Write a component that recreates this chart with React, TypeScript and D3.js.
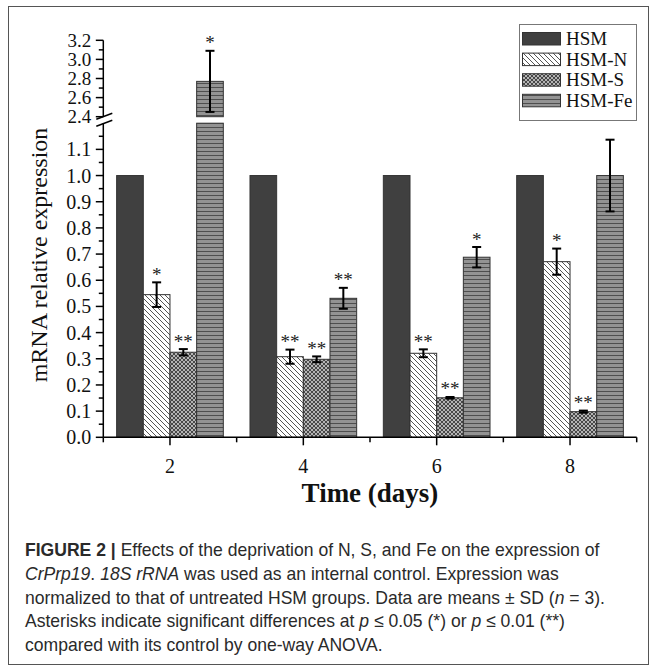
import React from "react";
import * as d3 from "d3";

const days = [2, 4, 6, 8];
const seriesNames = ["HSM", "HSM-N", "HSM-S", "HSM-Fe"];
const hsmValues = [1.0, 1.0, 1.0, 1.0];
const hsmSD = [0, 0, 0, 0];
const nValues = [0.545, 0.308, 0.321, 0.671];
const nSD = [0.047, 0.027, 0.015, 0.05];
const sValues = [0.325, 0.298, 0.151, 0.098];
const sSD = [0.012, 0.011, 0.003, 0.004];
const feValues = [2.77, 0.531, 0.688, 1.0];
const feSD = [0.32, 0.04, 0.039, 0.137];
const hsmSig = ["", "", "", ""];
const nSig = ["*", "**", "**", "*"];
const sSig = ["**", "**", "**", "**"];
const feSig = ["*", "**", "*", ""];

const lowMajorTicks = [0, 0.1, 0.2, 0.3, 0.4, 0.5, 0.6, 0.7, 0.8, 0.9, 1.0, 1.1];
const lowMinorTicks = [0.05, 0.15, 0.25, 0.35, 0.45, 0.55, 0.65, 0.75, 0.85, 0.95, 1.05, 1.15];
const highMajorTicks = [2.4, 2.6, 2.8, 3.0, 3.2];
const highMinorTicks = [2.5, 2.7, 2.9, 3.1];
const xMajorTicks = [2, 4, 6, 8];
const xMinorTicks = [1, 3, 5, 7, 9];

const captionLines = [
  [{ t: "FIGURE 2", w: "bold" }, { t: " | ", w: "bold" }, { t: "Effects of the deprivation of N, S, and Fe on the expression of" }],
  [{ t: "CrPrp19", i: true }, { t: ". " }, { t: "18S rRNA", i: true }, { t: " was used as an internal control. Expression was" }],
  [{ t: "normalized to that of untreated HSM groups. Data are means \u00B1 SD (" }, { t: "n", i: true }, { t: " = 3)." }],
  [{ t: "Asterisks indicate significant differences at " }, { t: "p", i: true }, { t: " \u2264 0.05 (*) or " }, { t: "p", i: true }, { t: " \u2264 0.01 (**)" }],
  [{ t: "compared with its control by one-way ANOVA." }],
];

const serif = "'Liberation Serif', 'Times New Roman', serif";
const sans = "'Liberation Sans', Arial, sans-serif";

export default function App() {
  const x = d3.scaleLinear().domain([1, 9]).range([103.3, 636.7]);
  const yLow = d3.scaleLinear().domain([0, 1.2]).range([437.3, 123.2]);
  const yHigh = d3.scaleLinear().domain([2.4, 3.2]).range([116.7, 40.3]);
  const y = (v: number) => (v <= 1.2 ? yLow(v) : yHigh(v));
  const fmt = d3.format(".1f");
  const barW = x(1.4) - x(1);
  const x0 = x(1);

  const series = [
    { vals: hsmValues, sd: hsmSD, sig: hsmSig, fill: "#404040" },
    { vals: nValues, sd: nSD, sig: nSig, fill: "url(#patN)" },
    { vals: sValues, sd: sSD, sig: sSig, fill: "url(#patS)" },
    { vals: feValues, sd: feSD, sig: feSig, fill: "url(#patFe)" },
  ];

  const bars: React.ReactNode[] = [];
  const errs: React.ReactNode[] = [];
  series.forEach((s, si) => {
    days.forEach((d, di) => {
      const v = s.vals[di];
      const left = x(d) + (si - 2) * barW;
      const cx = left + barW / 2;
      if (v > 1.2) {
        bars.push(
          <rect key={`b${si}-${di}-l`} x={left} y={yLow(1.2)} width={barW} height={yLow(0) - yLow(1.2)} fill={s.fill} stroke="#333" strokeWidth={1} />
        );
        bars.push(
          <rect key={`b${si}-${di}-h`} x={left} y={yHigh(v)} width={barW} height={yHigh(2.4) - yHigh(v)} fill={s.fill} stroke="#333" strokeWidth={1} />
        );
      } else {
        bars.push(
          <rect key={`b${si}-${di}`} x={left} y={y(v)} width={barW} height={yLow(0) - y(v)} fill={s.fill} stroke="#333" strokeWidth={1} />
        );
      }
      const sd = s.sd[di];
      if (sd > 0) {
        const top = y(v + sd);
        const bot = y(v - sd);
        errs.push(
          <g key={`e${si}-${di}`} stroke="#000" strokeWidth={2}>
            <line x1={cx} x2={cx} y1={top} y2={bot} />
            <line x1={cx - 4.5} x2={cx + 4.5} y1={top} y2={top} />
            <line x1={cx - 4.5} x2={cx + 4.5} y1={bot} y2={bot} />
          </g>
        );
      }
      if (s.sig[di]) {
        const top = y(v + sd);
        errs.push(
          <text key={`s${si}-${di}`} x={cx} y={top - 1.5} textAnchor="middle" fontFamily={serif} fontSize={19} fill="#222">
            {s.sig[di]}
          </text>
        );
      }
    });
  });

  return (
    <svg width={657} height={672} style={{ position: "absolute", left: 0, top: 0, background: "#fff" }}>
      <defs>
        <pattern id="patN" patternUnits="userSpaceOnUse" width={5} height={5}>
          <rect width={5} height={5} fill="#fff" />
          <path d="M0,0 L5,5 M-1,4 L1,6 M4,-1 L6,1" stroke="#555" strokeWidth={1} />
        </pattern>
        <pattern id="patS" patternUnits="userSpaceOnUse" width={4} height={4}>
          <rect width={4} height={4} fill="#b4b4b4" />
          <path d="M0,0 L4,4 M0,4 L4,0" stroke="#3c3c3c" strokeWidth={0.9} />
        </pattern>
        <pattern id="patFe" patternUnits="userSpaceOnUse" width={4} height={4}>
          <rect width={4} height={4} fill="#939393" />
          <rect y={3} width={4} height={1.1} fill="#4e4e4e" />
        </pattern>
      </defs>

      <rect x={8.5} y={6.5} width={640} height={658} fill="none" stroke="#555" strokeWidth={1} />

      {bars}
      {errs}

      <g stroke="#000" strokeWidth={1.5}>
        <line x1={x0} x2={x0} y1={yLow(0)} y2={yLow(1.2)} />
        <line x1={x0} x2={x0} y1={yHigh(2.4)} y2={yHigh(3.2)} />
        {lowMajorTicks.map((t) => (
          <line key={`lm${t}`} x1={x0 - 7.5} x2={x0} y1={yLow(t)} y2={yLow(t)} />
        ))}
        {lowMinorTicks.map((t) => (
          <line key={`ln${t}`} x1={x0 - 4.5} x2={x0} y1={yLow(t)} y2={yLow(t)} />
        ))}
        {highMajorTicks.map((t) => (
          <line key={`hm${t}`} x1={x0 - 7.5} x2={x0} y1={yHigh(t)} y2={yHigh(t)} />
        ))}
        {highMinorTicks.map((t) => (
          <line key={`hn${t}`} x1={x0 - 4.5} x2={x0} y1={yHigh(t)} y2={yHigh(t)} />
        ))}
        <line x1={x0 - 7} x2={x0 + 9} y1={yHigh(2.4) + 2.5} y2={yHigh(2.4) - 3.5} />
        <line x1={x0 - 7} x2={x0 + 9} y1={yLow(1.2) + 3} y2={yLow(1.2) - 3} />
      </g>
      <g fontFamily={serif} fontSize={20} fill="#111" textAnchor="end">
        {lowMajorTicks.map((t) => (
          <text key={`ll${t}`} x={x0 - 12} y={yLow(t)} dy="0.35em">{fmt(t)}</text>
        ))}
      </g>
      <g fontFamily={serif} fontSize={19} fill="#111" textAnchor="end">
        {highMajorTicks.map((t) => (
          <text key={`hl${t}`} x={x0 - 12} y={yHigh(t)} dy="0.33em">{fmt(t)}</text>
        ))}
      </g>

      <g stroke="#000" strokeWidth={1.5}>
        <line x1={x(1)} x2={x(9)} y1={yLow(0)} y2={yLow(0)} />
        {xMajorTicks.map((t) => (
          <line key={`xm${t}`} x1={x(t)} x2={x(t)} y1={yLow(0)} y2={yLow(0) + 8} />
        ))}
        {xMinorTicks.map((t) => (
          <line key={`xn${t}`} x1={x(t)} x2={x(t)} y1={yLow(0)} y2={yLow(0) + 5} />
        ))}
      </g>
      <g fontFamily={serif} fontSize={20} fill="#111" textAnchor="middle">
        {xMajorTicks.map((t) => (
          <text key={`xl${t}`} x={x(t)} y={473}>{t}</text>
        ))}
      </g>
      <text x={(x(1) + x(9)) / 2} y={502} textAnchor="middle" fontFamily={serif} fontSize={27} fontWeight="bold" fill="#111">
        Time (days)
      </text>
      <text transform={`translate(47,255) rotate(-90)`} textAnchor="middle" fontFamily={serif} fontSize={24} fill="#111">
        mRNA relative expression
      </text>

      <rect x={519.5} y={24.5} width={117} height={96} fill="#fff" stroke="#777" strokeWidth={1} />
      {seriesNames.map((n, i) => (
        <g key={n}>
          <rect x={522.5} y={32.5 + i * 20.6} width={38} height={12.5} fill={series[i].fill} stroke="#333" strokeWidth={1} />
          <text x={566} y={45 + i * 20.6} fontFamily={serif} fontSize={19} fill="#111">{n}</text>
        </g>
      ))}

      <g transform="translate(25,0) scale(0.96,1)">
        {captionLines.map((line, li) => (
          <text key={`c${li}`} x={0} y={556 + li * 23.8} fontFamily={sans} fontSize={18.3} fill="#2a2a2a">
            {line.map((seg: any, si) => (
              <tspan key={si} fontWeight={seg.w || "normal"} fontStyle={seg.i ? "italic" : "normal"}>
                {seg.t}
              </tspan>
            ))}
          </text>
        ))}
      </g>
    </svg>
  );
}
